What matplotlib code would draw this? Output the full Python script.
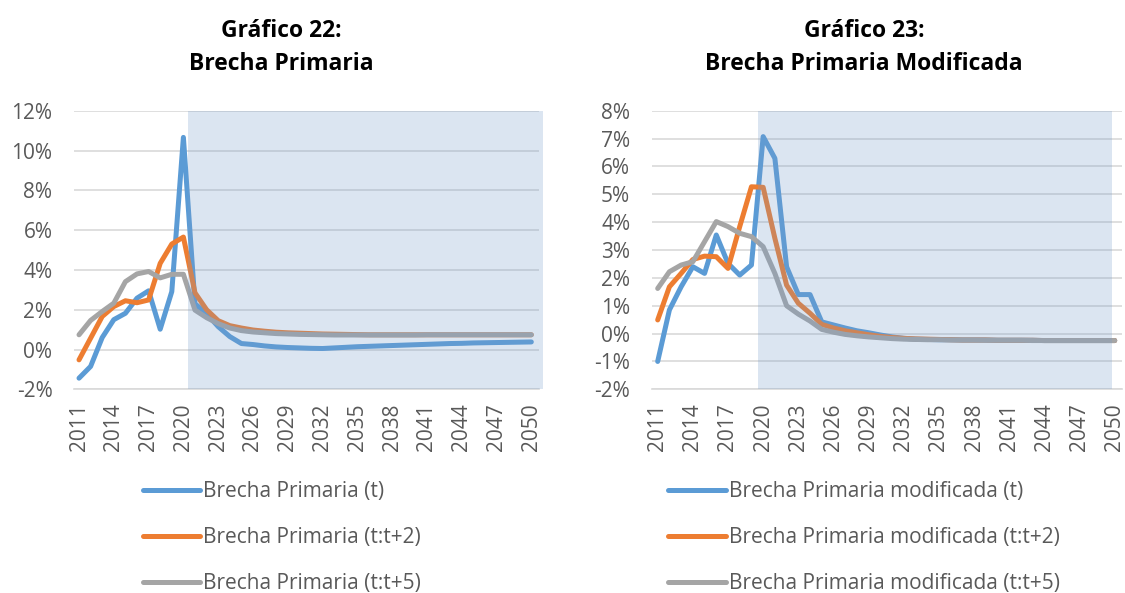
import numpy as np
import matplotlib
matplotlib.use("Agg")
import matplotlib.pyplot as plt
from matplotlib.ticker import FuncFormatter

plt.rcParams['font.family'] = ['Open Sans', 'DejaVu Sans']

# Datos (en %)
anios = list(range(2011, 2051))
etiquetas_x = list(range(2011, 2051, 3))

brecha_t = [-1.44, -0.85, 0.60, 1.50, 1.82, 2.58, 2.95, 1.02, 2.91, 10.66,
            2.30, 1.80, 1.15, 0.65, 0.30, 0.25, 0.18, 0.13, 0.10, 0.08,
            0.06, 0.05, 0.08, 0.11, 0.14, 0.16, 0.18, 0.20, 0.22, 0.24,
            0.26, 0.28, 0.30, 0.31, 0.33, 0.34, 0.35, 0.36, 0.37, 0.38]
brecha_t2 = [-0.52, 0.57, 1.66, 2.16, 2.45, 2.35, 2.49, 4.33, 5.30, 5.65,
             2.85, 2.00, 1.45, 1.20, 1.08, 0.98, 0.92, 0.87, 0.84, 0.82,
             0.80, 0.78, 0.77, 0.76, 0.75, 0.74, 0.74, 0.74, 0.74, 0.74,
             0.74, 0.74, 0.74, 0.74, 0.74, 0.74, 0.74, 0.74, 0.74, 0.74]
brecha_t5 = [0.74, 1.46, 1.91, 2.33, 3.41, 3.80, 3.92, 3.60, 3.78, 3.78,
             1.98, 1.60, 1.30, 1.08, 0.95, 0.88, 0.84, 0.80, 0.78, 0.76,
             0.75, 0.74, 0.73, 0.73, 0.73, 0.73, 0.73, 0.73, 0.73, 0.73,
             0.74, 0.74, 0.74, 0.74, 0.74, 0.74, 0.74, 0.74, 0.74, 0.74]

mod_t = [-1.00, 0.85, 1.68, 2.40, 2.16, 3.54, 2.52, 2.10, 2.46, 7.07,
         6.29, 2.40, 1.40, 1.40, 0.42, 0.31, 0.20, 0.10, 0.03, -0.05,
         -0.12, -0.17, -0.20, -0.21, -0.22, -0.22, -0.23, -0.23, -0.23, -0.24,
         -0.24, -0.24, -0.24, -0.25, -0.25, -0.25, -0.25, -0.25, -0.25, -0.25]
mod_t2 = [0.49, 1.68, 2.16, 2.66, 2.78, 2.76, 2.34, 3.84, 5.27, 5.25,
          3.42, 1.74, 1.09, 0.73, 0.33, 0.20, 0.10, 0.03, -0.04, -0.10,
          -0.14, -0.17, -0.19, -0.20, -0.21, -0.22, -0.23, -0.23, -0.23, -0.24,
          -0.24, -0.24, -0.24, -0.25, -0.25, -0.25, -0.25, -0.25, -0.25, -0.25]
mod_t5 = [1.62, 2.22, 2.46, 2.58, 3.30, 4.02, 3.84, 3.60, 3.48, 3.12,
          2.16, 1.00, 0.70, 0.45, 0.15, 0.05, -0.03, -0.08, -0.12, -0.15,
          -0.18, -0.20, -0.21, -0.22, -0.22, -0.23, -0.23, -0.23, -0.24, -0.24,
          -0.24, -0.24, -0.25, -0.25, -0.25, -0.25, -0.25, -0.25, -0.25, -0.25]

colores = ['#5B9BD5', '#ED7D31', '#A5A5A5']
gris_texto = '#595959'

fig = plt.figure(figsize=(11.25, 5.93), dpi=100)

graficos = [
    dict(pos=[0.0658, 0.3435, 0.4133, 0.4698], series=[brecha_t, brecha_t2, brecha_t5],
         nombres=['Brecha Primaria (t)', 'Brecha Primaria (t:t+2)', 'Brecha Primaria (t:t+5)'],
         titulo=['Gráfico 22:', 'Brecha Primaria'], tx=0.25,
         ylim=(-2, 12), paso=2, xlim=(2010.57, 2050.66), sombra=(2020.4, 2051.03), ley_x=0.127),
    dict(pos=[0.5793, 0.3435, 0.4178, 0.4698], series=[mod_t, mod_t2, mod_t5],
         nombres=['Brecha Primaria modificada (t)', 'Brecha Primaria modificada (t:t+2)',
                  'Brecha Primaria modificada (t:t+5)'],
         titulo=['Gráfico 23:', 'Brecha Primaria Modificada'], tx=0.768,
         ylim=(-2, 8), paso=1, xlim=(2010.49, 2050.6), sombra=(2019.6, 2049.75), ley_x=0.594),
]

for g in graficos:
    ax = fig.add_axes(g['pos'])
    lineas = []
    for serie, color, nombre in zip(g['series'], colores, g['nombres']):
        l, = ax.plot(anios, serie, color=color, lw=3.6, label=nombre, zorder=2,
                     solid_capstyle='round', solid_joinstyle='round')
        lineas.append(l)
    # zona de proyección sombreada (encima de las líneas)
    ax.axvspan(g['sombra'][0], g['sombra'][1], color='#739BCB', alpha=0.25, lw=0,
               zorder=3, clip_on=False)

    ax.set_xlim(*g['xlim'])
    ax.set_ylim(*g['ylim'])
    ax.set_yticks(np.arange(g['ylim'][0], g['ylim'][1] + 0.1, g['paso']))
    ax.yaxis.set_major_formatter(FuncFormatter(lambda v, p: '{:.0f}%'.format(v)))
    ax.set_xticks(etiquetas_x)
    ax.set_xticklabels([str(a) for a in etiquetas_x], rotation=90, va='top', ha='center')
    ax.grid(axis='y', color='#D9D9D9', lw=1.2, zorder=0)
    ax.set_axisbelow(True)
    for s in ['top', 'right', 'left']:
        ax.spines[s].set_visible(False)
    ax.spines['bottom'].set_color('#D9D9D9')
    ax.spines['bottom'].set_linewidth(1.2)
    ax.tick_params(axis='both', length=0, labelsize=15, labelcolor=gris_texto)
    ax.tick_params(axis='y', pad=15.5)
    ax.tick_params(axis='x', pad=10)

    fig.text(g['tx'], 1 - 37 / 593, g['titulo'][0], ha='center', va='baseline',
             fontsize=16.5, fontweight='bold')
    fig.text(g['tx'], 1 - 70 / 593, g['titulo'][1], ha='center', va='baseline',
             fontsize=16.5, fontweight='bold')

    ax.legend(handles=lineas, loc='upper left', bbox_to_anchor=(g['ley_x'], 0.1885),
              bbox_transform=fig.transFigure, frameon=False, fontsize=15,
              labelcolor=gris_texto, handlelength=2.75, handletextpad=0.15,
              labelspacing=1.2, borderpad=0, borderaxespad=0)

fig.savefig('out.png', dpi=100)
